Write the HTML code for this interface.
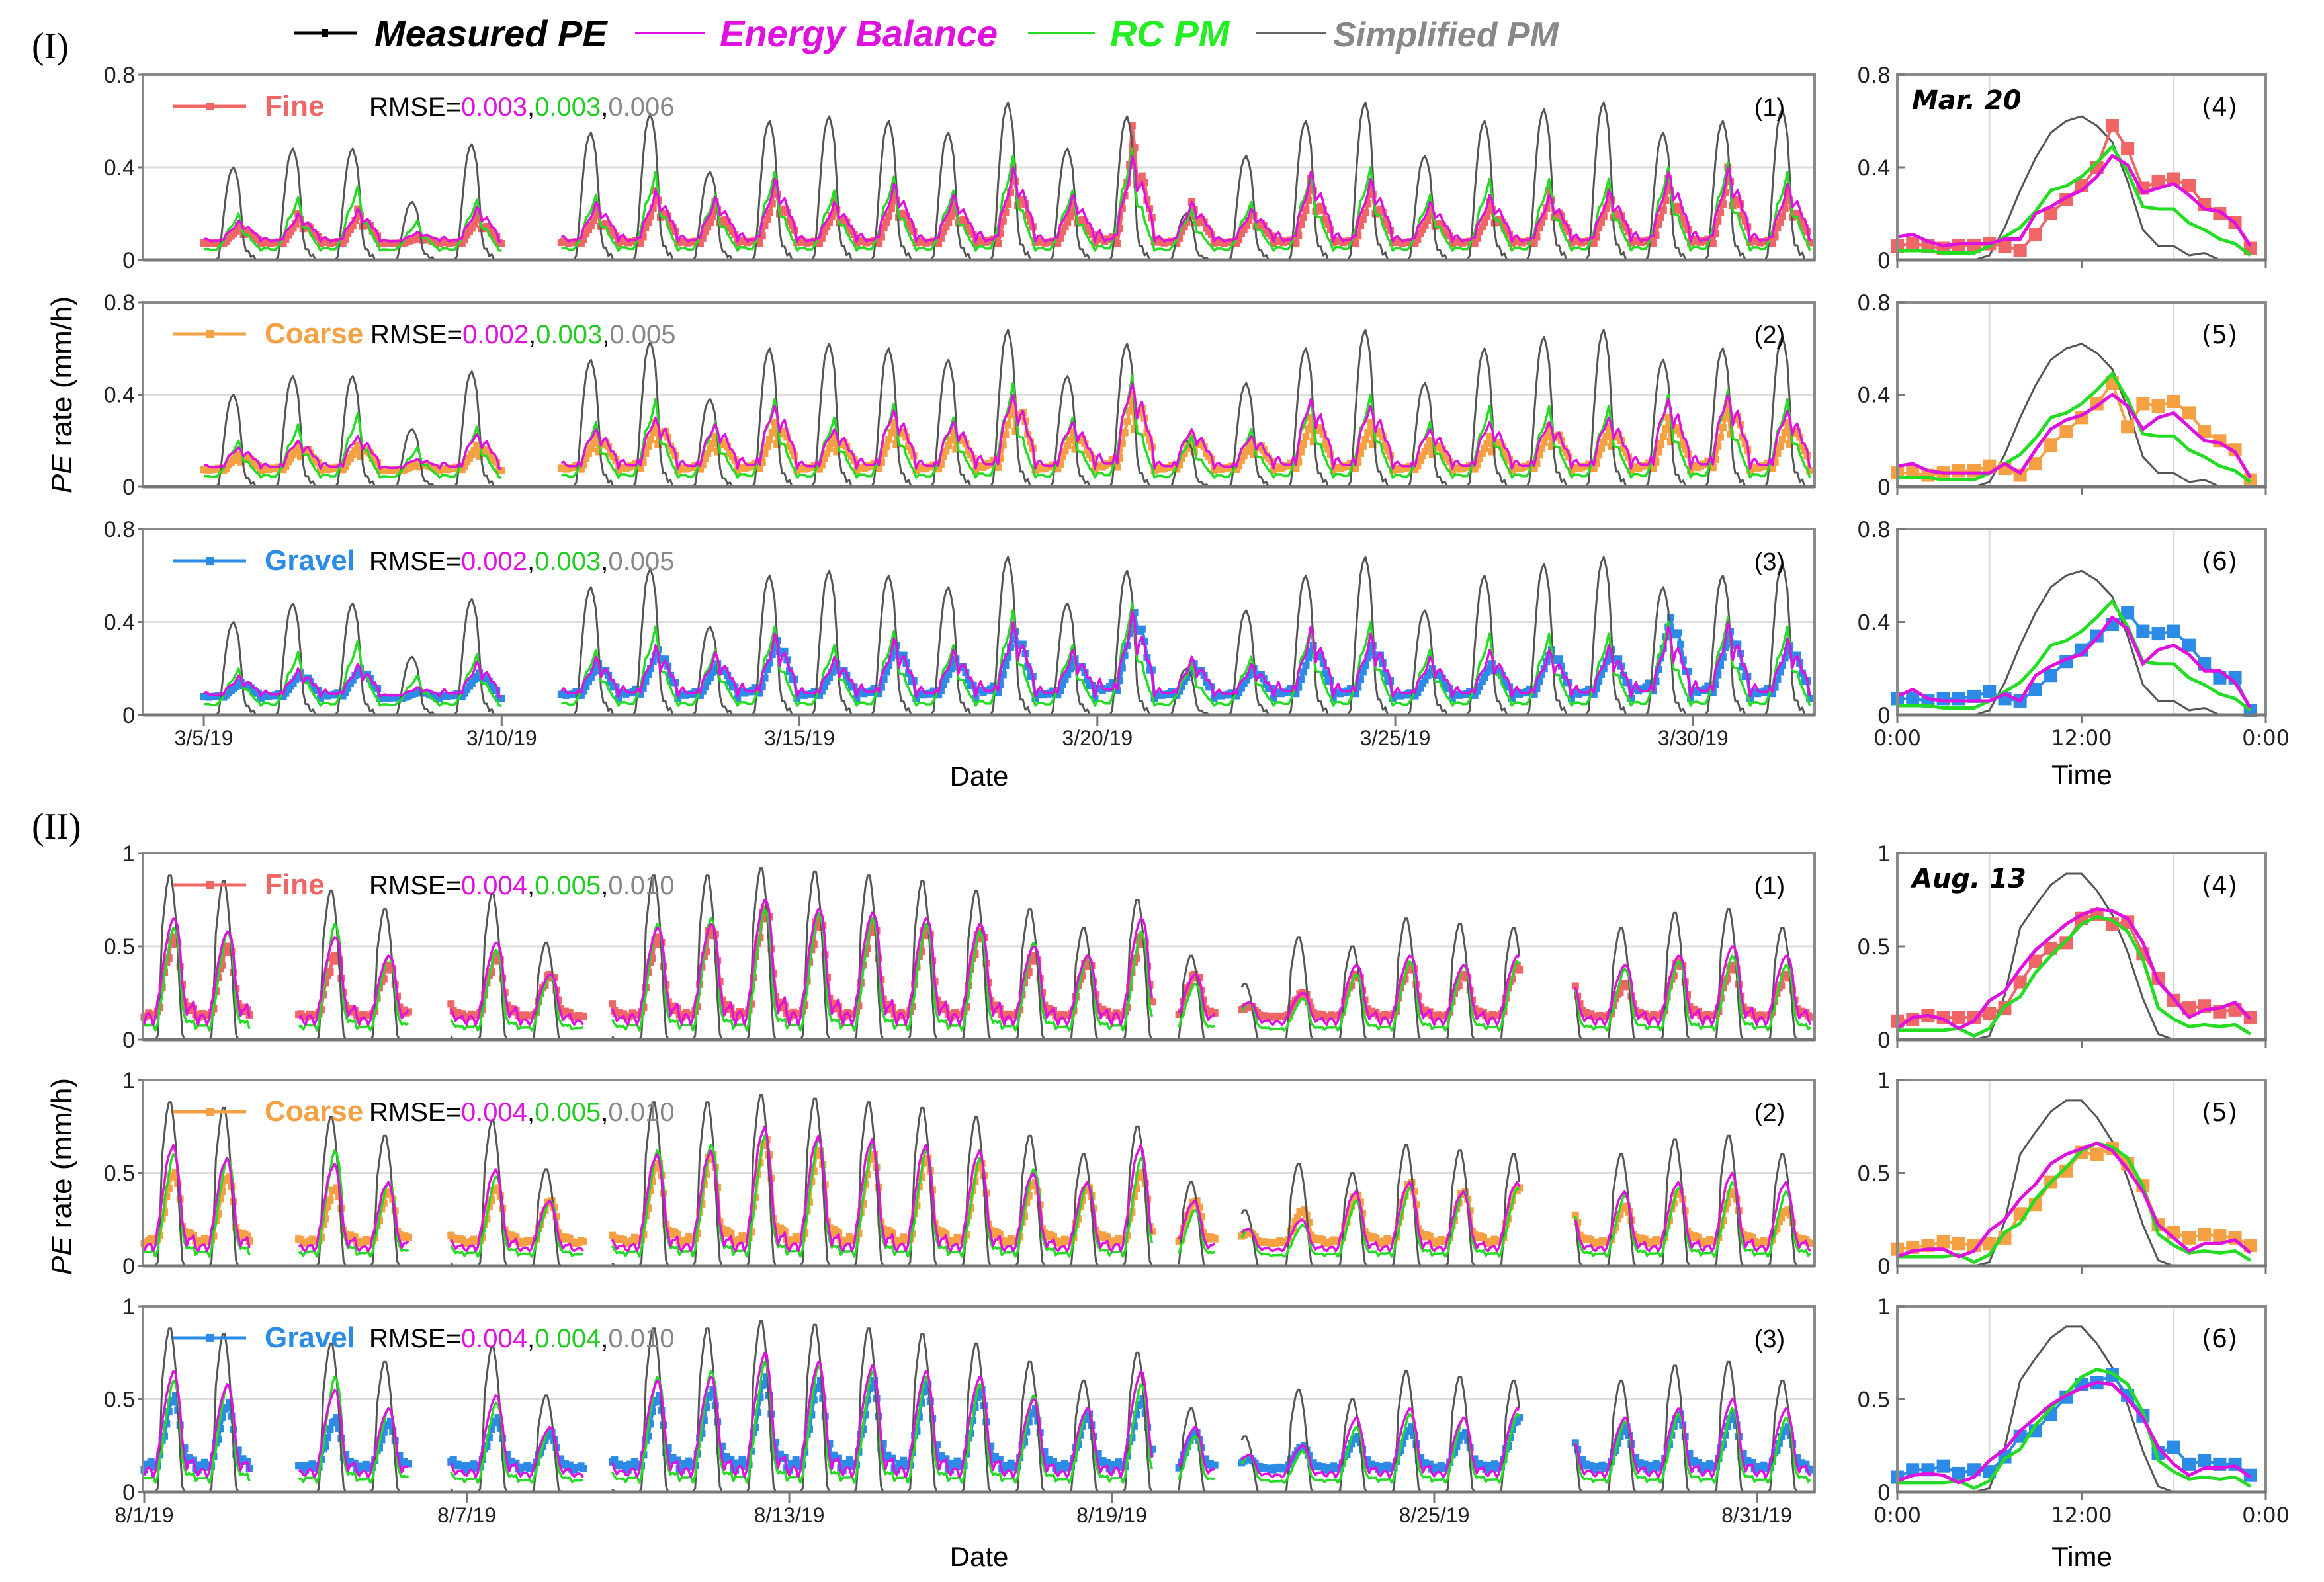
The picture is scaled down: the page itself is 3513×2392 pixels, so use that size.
<!DOCTYPE html>
<html><head><meta charset="utf-8">
<style>
html,body{margin:0;padding:0;background:#fff;}
svg{display:block;font-family:"Liberation Sans",sans-serif;}
</style></head>
<body>
<svg id="chart" width="3513" height="2392" viewBox="0 0 3513 2392" xmlns="http://www.w3.org/2000/svg">
<rect x="0" y="0" width="3513" height="2392" fill="#fff"/>
<g>
  <line x1="445" y1="50" x2="540" y2="50" stroke="#000" stroke-width="5"/><rect x="486" y="44" width="10" height="12" fill="#000"/>
  <text x="566" y="70" font-size="56" font-weight="bold" font-style="italic" fill="#000">Measured PE</text>
  <line x1="960" y1="50" x2="1065" y2="50" stroke="#e010e0" stroke-width="4"/>
  <text x="1088" y="70" font-size="56" font-weight="bold" font-style="italic" fill="#e010e0">Energy Balance</text>
  <line x1="1554" y1="50" x2="1655" y2="50" stroke="#22dd22" stroke-width="4"/>
  <text x="1678" y="70" font-size="56" font-weight="bold" font-style="italic" fill="#22ee22">RC PM</text>
  <line x1="1898" y1="50" x2="2004" y2="50" stroke="#666" stroke-width="4"/>
  <text x="2015" y="70" font-size="52" font-weight="bold" font-style="italic" fill="#888">Simplified PM</text>
</g>
<text x="48" y="88" font-size="56" font-family="Liberation Serif,serif">(I)</text>
<text x="48" y="1268" font-size="56" font-family="Liberation Serif,serif">(II)</text>
<g id="plots"></g>
</svg>
<script>
// ---------- Data: diurnal (hourly) curves ----------
const marHours = [0,1,2,3,4,5,6,7,8,9,10,11,12,13,14,15,16,17,18,19,20,21,22,23];
const marFine   = [0.06,0.07,0.06,0.05,0.06,0.06,0.07,0.06,0.04,0.11,0.20,0.26,0.32,0.40,0.58,0.48,0.31,0.34,0.35,0.32,0.24,0.20,0.16,0.05];
const marCoarse = [0.06,0.06,0.05,0.06,0.07,0.07,0.09,0.08,0.05,0.10,0.18,0.24,0.30,0.36,0.45,0.26,0.36,0.35,0.37,0.32,0.24,0.20,0.16,0.03];
const marGravel = [0.07,0.07,0.06,0.07,0.07,0.08,0.10,0.07,0.06,0.11,0.17,0.23,0.28,0.34,0.39,0.44,0.36,0.35,0.36,0.30,0.22,0.16,0.16,0.02];
const marEB     = [0.10,0.11,0.08,0.06,0.07,0.07,0.07,0.09,0.09,0.20,0.23,0.27,0.30,0.36,0.45,0.41,0.29,0.31,0.33,0.28,0.22,0.21,0.16,0.06];
const marEB2    = [0.09,0.10,0.07,0.06,0.06,0.06,0.06,0.10,0.06,0.16,0.25,0.29,0.31,0.35,0.40,0.35,0.25,0.30,0.32,0.26,0.20,0.19,0.15,0.04];
const marEB3    = [0.08,0.11,0.07,0.06,0.06,0.06,0.06,0.09,0.06,0.17,0.21,0.24,0.26,0.33,0.42,0.37,0.22,0.28,0.30,0.26,0.19,0.19,0.14,0.03];
const marRC     = [0.04,0.04,0.04,0.03,0.03,0.03,0.06,0.10,0.14,0.21,0.30,0.32,0.36,0.42,0.49,0.38,0.23,0.22,0.22,0.16,0.13,0.09,0.07,0.02];
const marSPM    = [0,0,0,0,0,0,0.02,0.14,0.30,0.44,0.55,0.60,0.62,0.58,0.51,0.34,0.13,0.06,0.06,0.02,0.03,0,0,0];

const augFine   = [0.10,0.11,0.13,0.12,0.12,0.12,0.14,0.17,0.31,0.42,0.49,0.52,0.65,0.67,0.62,0.63,0.46,0.33,0.21,0.17,0.18,0.15,0.16,0.12];
const augCoarse = [0.09,0.10,0.11,0.13,0.12,0.11,0.12,0.15,0.28,0.33,0.45,0.51,0.61,0.60,0.63,0.55,0.43,0.22,0.18,0.15,0.17,0.16,0.15,0.11];
const augGravel = [0.08,0.12,0.12,0.14,0.10,0.12,0.11,0.19,0.30,0.33,0.42,0.51,0.58,0.59,0.63,0.52,0.41,0.21,0.24,0.15,0.17,0.15,0.15,0.09];
const augEB     = [0.06,0.12,0.13,0.11,0.06,0.10,0.21,0.26,0.38,0.48,0.55,0.62,0.67,0.70,0.69,0.65,0.52,0.31,0.22,0.12,0.16,0.17,0.20,0.11];
const augEB2    = [0.05,0.08,0.09,0.09,0.05,0.08,0.19,0.25,0.36,0.44,0.55,0.60,0.63,0.66,0.62,0.52,0.40,0.22,0.15,0.08,0.12,0.12,0.14,0.07];
const augEB3    = [0.06,0.09,0.10,0.09,0.05,0.08,0.17,0.23,0.33,0.40,0.47,0.52,0.56,0.59,0.58,0.50,0.40,0.24,0.15,0.09,0.13,0.13,0.14,0.08];
const augRC     = [0.05,0.05,0.05,0.05,0.06,0.02,0.06,0.18,0.23,0.36,0.45,0.53,0.62,0.66,0.64,0.58,0.43,0.17,0.11,0.07,0.08,0.07,0.08,0.03];
const augSPM    = [0,0,0,0,0,0,0.02,0.24,0.60,0.72,0.83,0.89,0.89,0.80,0.67,0.47,0.22,0.03,0,0,0,0,0,0];

// ---------- Data: daily peaks (March: index 0 = 3/4, August: index 0 = 8/1) ----------
const marTickLabels = ["3/5/19","3/10/19","3/15/19","3/20/19","3/25/19","3/30/19"];
const marTickDays = [1,6,11,16,21,26];
const marSegments = [[1.0,6.0],[7.0,27.98]];
const marPeakFine   = [null,0.15,0.20,0.22,0.10,0.20,null,0.22,0.30,0.25,0.33,0.25,0.30,0.25,0.40,0.25,0.58,0.25,0.22,0.35,0.33,0.22,0.25,0.30,0.30,0.35,0.40,0.30];
const marPeakCoarse = [null,0.14,0.18,0.18,0.10,0.18,null,0.22,0.28,0.22,0.28,0.22,0.28,0.24,0.38,0.24,0.40,0.22,0.20,0.30,0.28,0.20,0.22,0.26,0.26,0.30,0.36,0.28];
const marPeakGravel = [null,0.14,0.18,0.20,0.10,0.18,null,0.22,0.28,0.22,0.32,0.22,0.30,0.24,0.36,0.24,0.44,0.22,0.20,0.30,0.30,0.20,0.22,0.28,0.28,0.42,0.36,0.30];
const marPeakEB  = [null,0.17,0.20,0.22,0.12,0.23,null,0.25,0.30,0.27,0.35,0.25,0.33,0.28,0.40,0.28,0.45,0.25,0.22,0.38,0.35,0.25,0.28,0.28,0.30,0.38,0.40,0.33];
const marPeakRC  = [null,0.20,0.27,0.32,0.17,0.26,null,0.28,0.38,0.28,0.38,0.30,0.36,0.30,0.45,0.30,0.48,0.22,0.25,0.38,0.40,0.28,0.35,0.35,0.35,0.40,0.42,0.38];
const marPeakSPM = [null,0.40,0.48,0.48,0.25,0.50,null,0.55,0.63,0.38,0.60,0.62,0.60,0.55,0.68,0.48,0.62,0.20,0.45,0.60,0.68,0.45,0.60,0.65,0.68,0.55,0.60,0.65];

const augTickLabels = ["8/1/19","8/7/19","8/13/19","8/19/19","8/25/19","8/31/19"];
const augTickDays = [0,6,12,18,24,30];
const augSegments = [[0.0,1.97],[2.86,4.94],[5.7,8.2],[8.7,18.75],[19.25,19.95],[20.4,25.6],[26.6,31.0]];
const augPeakFine   = [0.55,0.50,0.30,0.45,0.40,0.30,0.45,0.35,0.30,0.55,0.60,0.70,0.65,0.62,0.60,0.58,0.45,0.42,0.55,0.35,0.18,0.25,0.35,0.40,0.35,0.40,0.30,0.30,0.42,0.40,0.35];
const augPeakCoarse = [0.50,0.48,0.30,0.42,0.40,0.30,0.42,0.35,0.30,0.55,0.60,0.68,0.62,0.60,0.58,0.55,0.45,0.42,0.50,0.35,0.18,0.30,0.38,0.45,0.40,0.42,0.30,0.32,0.40,0.40,0.30];
const augPeakGravel = [0.52,0.48,0.30,0.40,0.38,0.30,0.40,0.32,0.30,0.52,0.55,0.62,0.60,0.60,0.58,0.55,0.45,0.42,0.50,0.32,0.18,0.25,0.30,0.35,0.32,0.40,0.30,0.35,0.42,0.42,0.35];
const augPeakEB  = [0.65,0.58,0.30,0.55,0.45,0.30,0.52,0.35,0.30,0.60,0.62,0.75,0.70,0.68,0.65,0.62,0.50,0.45,0.65,0.35,0.20,0.25,0.40,0.45,0.40,0.45,0.30,0.40,0.45,0.50,0.45];
const augPeakRC  = [0.60,0.58,0.30,0.62,0.45,0.30,0.48,0.35,0.30,0.62,0.65,0.70,0.68,0.65,0.62,0.58,0.52,0.45,0.58,0.30,0.20,0.22,0.35,0.42,0.40,0.42,0.30,0.38,0.42,0.45,0.40];
const augPeakSPM = [0.88,0.85,0.50,0.80,0.70,0.50,0.78,0.52,0.50,0.88,0.88,0.92,0.90,0.88,0.85,0.80,0.70,0.60,0.75,0.45,0.30,0.55,0.50,0.65,0.62,0.60,0.50,0.60,0.68,0.70,0.60];

const rmseMar = [["0.003","0.003","0.006"],["0.002","0.003","0.005"],["0.002","0.003","0.005"]];
const rmseAug = [["0.004","0.005","0.010"],["0.004","0.005","0.010"],["0.004","0.004","0.010"]];

// ---------- Rendering ----------
const NS = "http://www.w3.org/2000/svg";
const root = document.getElementById("plots");
const C = {fine:"#f06565",coarse:"#f5a043",gravel:"#2b8be6",eb:"#e010e0",rc:"#22dd22",spm:"#555"};
function mk(tag, attrs, parent){const e=document.createElementNS(NS,tag);for(const k in attrs)e.setAttribute(k,attrs[k]);(parent||root).appendChild(e);return e;}
function txt(s, attrs, parent){const e=mk("text",attrs,parent);e.textContent=s;return e;}

const L=216,R=2743,RL=2868,RR=3425;
function normShape(a){const mn=Math.min(...a),mx=Math.max(...a);return a.map(v=>(v-mn)/(mx-mn));}
function expand(seg, peaks, shape, base){
  const n=normShape(shape);const pts=[];
  for(let h=Math.ceil(seg[0]*24);h<=Math.floor(seg[1]*24);h++){
    const d=Math.min(peaks.length-1,Math.floor(h/24)),hr=h%24;
    const p=peaks[d]==null?base:peaks[d];
    pts.push([h/24, base+(p-base)*n[hr]]);
  }
  return pts;
}

function panel(cfg){
  const g=mk("g",{});
  
  
  const top=cfg.top,bot=cfg.bot,ym=cfg.ymax;
  const yS=v=>bot-v/ym*(bot-top);
  const xS=t=>cfg.x0+t*cfg.ppd;
  mk("line",{x1:L,x2:R,y1:yS(ym/2),y2:yS(ym/2),stroke:"#ddd","stroke-width":3},g);
  function line(pts,col,w,nm){
    const p=mk("polyline",{points:pts.map(q=>xS(q[0]).toFixed(1)+","+yS(q[1]).toFixed(1)).join(" "),fill:"none",stroke:col,"stroke-width":w,"stroke-linejoin":"round"},g);
    
    
  }
  cfg.segs.forEach((s,i)=>{
    const mp=expand(s,cfg.meas,cfg.measShape,cfg.measBase);
    line(mp,cfg.col,5,"measured-line-"+i);
    mp.forEach(q=>{const r=mk("rect",{x:xS(q[0])-5.5,y:yS(q[1])-5.5,width:11,height:11,fill:cfg.col},g);
      
      });
  });
  cfg.segs.forEach((s,i)=>{
    line(expand(s,cfg.spm,cfg.spmShape,0),C.spm,3,"simplified-pm-line-"+i);
    line(expand(s,cfg.rc,cfg.rcShape,cfg.rcBase),C.rc,3.5,"rc-pm-line-"+i);
    line(expand(s,cfg.eb,cfg.ebShape,cfg.ebBase),C.eb,3.5,"energy-balance-line-"+i);
  });
  mk("rect",{x:L,y:top,width:R-L,height:bot-top,fill:"none",stroke:"#8a8a8a","stroke-width":4},g);
  mk("line",{x1:L,x2:R,y1:bot,y2:bot,stroke:"#777","stroke-width":5},g);
  cfg.yTicks.forEach((t,i)=>{const y=yS(cfg.yVals[i]);
    mk("line",{x1:L-8,x2:L,y1:y,y2:y,stroke:"#777","stroke-width":3},g);
    const e=txt(t,{x:L-12,y:y+12,"font-size":34,"text-anchor":"end",fill:"#222"},g);
    
    });
  if(cfg.xTicks){cfg.xTickDays.forEach((d,i)=>{const x=xS(d);
    mk("line",{x1:x,x2:x,y1:bot,y2:bot+16,stroke:"#777","stroke-width":3},g);
    const e=txt(cfg.xTicks[i],{x:x,y:bot+46,"font-size":32,"text-anchor":"middle",fill:"#222"},g);
    
    });}
  mk("line",{x1:262,x2:372,y1:top+48,y2:top+48,stroke:cfg.col,"stroke-width":5},g);
  mk("rect",{x:311,y:top+42,width:12,height:12,fill:cfg.col},g);
  txt(cfg.label,{x:400,y:top+62,"font-size":44,"font-weight":"bold",fill:cfg.col},g);
  const t=txt("",{x:cfg.rmseX,y:top+62,"font-size":40,fill:"#000"},g);
  
  
  [["RMSE=","#000"],[cfg.rmse[0],C.eb],[",","#000"],[cfg.rmse[1],"#22cc22"],[",","#000"],[cfg.rmse[2],"#888"]].forEach(p=>{const s=document.createElementNS(NS,"tspan");s.setAttribute("fill",p[1]);s.textContent=p[0];t.appendChild(s);});
  txt(cfg.num,{x:2675,y:top+62,"font-size":38,"text-anchor":"middle",fill:"#000"},g);
}

function dayPanel(cfg){
  const g=mk("g",{});
  
  
  const top=cfg.top,bot=cfg.bot,ym=cfg.ymax;
  const yS=v=>bot-v/ym*(bot-top);
  const xS=h=>RL+h/24*(RR-RL);
  [6,18].forEach(h=>mk("line",{x1:xS(h),x2:xS(h),y1:top,y2:bot,stroke:"#ddd","stroke-width":3},g));
  function line(arr,col,w,nm){const p=mk("polyline",{points:arr.map((v,i)=>xS(marHours[i]).toFixed(1)+","+yS(v).toFixed(1)).join(" "),fill:"none",stroke:col,"stroke-width":w},g);
    
    }
  line(cfg.spm,C.spm,3,"simplified-pm-line");
  line(cfg.meas,cfg.col,4,"measured-line");
  cfg.meas.forEach((v,i)=>{const r=mk("rect",{x:xS(marHours[i])-10,y:yS(v)-10,width:20,height:20,fill:cfg.col},g);
    
    });
  line(cfg.rc,C.rc,5,"rc-pm-line");
  line(cfg.eb,C.eb,5,"energy-balance-line");
  mk("rect",{x:RL,y:top,width:RR-RL,height:bot-top,fill:"none",stroke:"#8a8a8a","stroke-width":4},g);
  mk("line",{x1:RL,x2:RR,y1:bot,y2:bot,stroke:"#777","stroke-width":5},g);
  [0,12,24].forEach(h=>mk("line",{x1:xS(h),x2:xS(h),y1:bot,y2:bot+12,stroke:"#777","stroke-width":3},g));
  cfg.yTicks.forEach((t,i)=>{const y=yS(cfg.yVals[i]);
    mk("line",{x1:RL,x2:RL+12,y1:y,y2:y,stroke:"#777","stroke-width":3},g);
    const e=txt(t,{x:RL-10,y:y+12,"font-size":32,"text-anchor":"end",fill:"#222","font-family":"DejaVu Sans,sans-serif"},g);
    
    });
  if(cfg.xlab){["0:00","12:00","0:00"].forEach((s,i)=>{const e=txt(s,{x:xS(i*12),y:bot+46,"font-size":32,"text-anchor":"middle",fill:"#222","font-family":"DejaVu Sans,sans-serif"},g);
    
    });}
  if(cfg.date)txt(cfg.date,{x:RL+22,y:top+52,"font-size":40,"font-weight":"bold","font-style":"italic",fill:"#000","font-family":"DejaVu Sans,sans-serif"},g);
  txt(cfg.num,{x:RR-70,y:top+62,"font-size":38,"text-anchor":"middle",fill:"#000","font-family":"DejaVu Sans,sans-serif"},g);
}

const marTops=[113,457,800],marBots=[393,736,1081];
const augTops=[1290,1633,1975],augBots=[1572,1914,2256];
const soils=[["Fine",C.fine],["Coarse",C.coarse],["Gravel",C.gravel]];
const marMeas=[marPeakFine,marPeakCoarse,marPeakGravel],augMeas=[augPeakFine,augPeakCoarse,augPeakGravel];
const marDay=[marFine,marCoarse,marGravel],augDay=[augFine,augCoarse,augGravel];
const marEBs=[marEB,marEB2,marEB3],augEBs=[augEB,augEB2,augEB3];
for(let i=0;i<3;i++){
  panel({name:"march-"+soils[i][0].toLowerCase()+"-panel",top:marTops[i],bot:marBots[i],ymax:0.8,x0:218,ppd:90.05,segs:marSegments,
    meas:marMeas[i],measShape:marDay[i],measBase:0.07,eb:marPeakEB,ebShape:marEBs[i],ebBase:0.08,rc:marPeakRC,rcShape:marRC,rcBase:0.04,
    spm:marPeakSPM,spmShape:marSPM,col:soils[i][1],label:soils[i][0],rmse:rmseMar[i],rmseX:i==1?560:558,num:"("+(i+1)+")",
    yTicks:["0","0.4","0.8"],yVals:[0,0.4,0.8],xTicks:i==2?marTickLabels:null,xTickDays:marTickDays});
  panel({name:"august-"+soils[i][0].toLowerCase()+"-panel",top:augTops[i],bot:augBots[i],ymax:1,x0:218,ppd:81.25,segs:augSegments,
    meas:augMeas[i],measShape:augDay[i],measBase:0.12,eb:augPeakEB,ebShape:augEBs[i],ebBase:0.08,rc:augPeakRC,rcShape:augRC,rcBase:0.05,
    spm:augPeakSPM,spmShape:augSPM,col:soils[i][1],label:soils[i][0],rmse:rmseAug[i],rmseX:558,num:"("+(i+1)+")",
    yTicks:["0","0.5","1"],yVals:[0,0.5,1],xTicks:i==2?augTickLabels:null,xTickDays:augTickDays});
  dayPanel({name:"march-20-"+soils[i][0].toLowerCase()+"-panel",top:marTops[i],bot:marBots[i],ymax:0.8,meas:marDay[i],eb:marEBs[i],rc:marRC,spm:marSPM,
    col:soils[i][1],yTicks:["0","0.4","0.8"],yVals:[0,0.4,0.8],xlab:i==2,date:i==0?"Mar. 20":null,num:"("+(i+4)+")"});
  dayPanel({name:"august-13-"+soils[i][0].toLowerCase()+"-panel",top:augTops[i],bot:augBots[i],ymax:1,meas:augDay[i],eb:augEBs[i],rc:augRC,spm:augSPM,
    col:soils[i][1],yTicks:["0","0.5","1"],yVals:[0,0.5,1],xlab:i==2,date:i==0?"Aug. 13":null,num:"("+(i+4)+")"});
}
function title(s,x,y,nm){const e=txt(s,{x:x,y:y,"font-size":42,"text-anchor":"middle",fill:"#000"});
  
  }
title("Date",1480,1188,"x-axis-title-march");
title("Date",1480,2368,"x-axis-title-august");
title("Time",3147,1186,"time-axis-title-march");
title("Time",3147,2368,"time-axis-title-august");
[[597,"y-axis-title-march"],[1779,"y-axis-title-august"]].forEach(a=>{
  const e=txt("",{x:0,y:0,"font-size":44,"text-anchor":"middle",transform:"translate(108,"+a[0]+") rotate(-90)",fill:"#000"});
  
  
  const s1=document.createElementNS(NS,"tspan");s1.setAttribute("font-style","italic");s1.textContent="PE";e.appendChild(s1);
  const s2=document.createElementNS(NS,"tspan");s2.textContent=" rate (mm/h)";e.appendChild(s2);
});
</script>
</body></html>
